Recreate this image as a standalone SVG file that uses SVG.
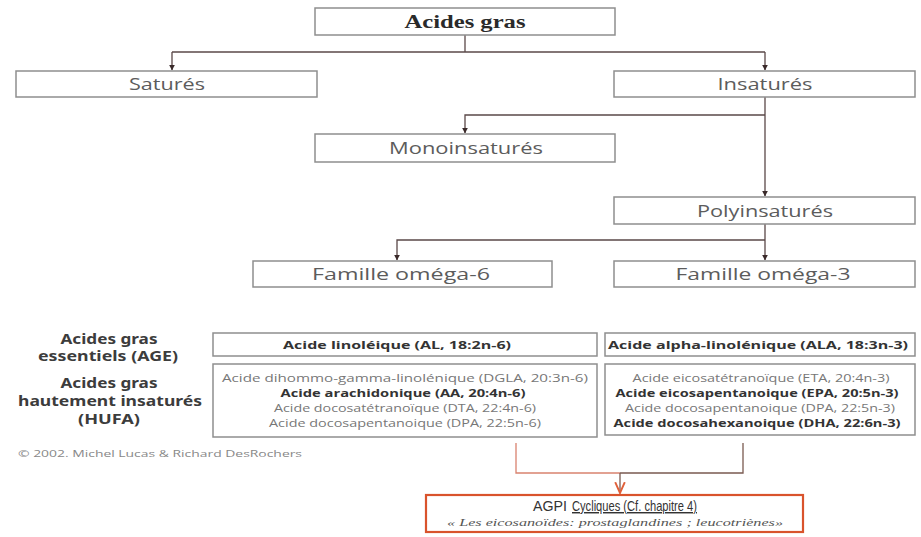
<svg xmlns="http://www.w3.org/2000/svg" width="921" height="537" viewBox="0 0 921 537">
<style>
.box{fill:#fff;stroke:#8e8e8e;stroke-width:1.5}
.lbl{font-family:"Open Sans","Liberation Sans",sans-serif;font-size:16px;fill:#5c5c5c;text-anchor:middle}
.big{font-size:17px}
.ttl{font-family:"Liberation Serif",serif;font-weight:bold;font-size:18px;fill:#2a2a2a;text-anchor:middle}
.side{font-family:"Noto Sans","Liberation Sans",sans-serif;font-weight:bold;font-size:13.5px;fill:#3c3c3c;text-anchor:middle}
.sm{font-family:"Open Sans","Liberation Sans",sans-serif;font-size:11px;fill:#777;text-anchor:middle}
.smb{font-family:"Open Sans","Liberation Sans",sans-serif;font-size:11px;font-weight:bold;fill:#333;text-anchor:middle}
.con{fill:none;stroke:#5a4848;stroke-width:1.3}
.agpi{font-family:"Liberation Sans",Arial,sans-serif;font-size:14.5px;fill:#333}
</style>
<defs>
<marker id="ah" viewBox="0 0 10 10" refX="9" refY="5" markerWidth="6" markerHeight="6" orient="auto" markerUnits="userSpaceOnUse">
<path d="M0,0 L10,5 L0,10 z" fill="#3a2a2a"/>
</marker>
<marker id="ahr" viewBox="0 0 10 10" refX="9" refY="5" markerWidth="12" markerHeight="12" orient="auto" markerUnits="userSpaceOnUse">
<path d="M0,1 L9,5 L0,9" fill="none" stroke="#e0603a" stroke-width="1.6"/>
</marker>
</defs>
<rect width="921" height="537" fill="#fff"/>
<g id="connectors">
<path class="con" d="M465,35 V52"/>
<path class="con" d="M172,52 H765"/>
<path class="con" d="M172,52 V70" marker-end="url(#ah)"/>
<path class="con" d="M765,52 V70" marker-end="url(#ah)"/>
<path class="con" d="M765,97 V196" marker-end="url(#ah)"/>
<path class="con" d="M765,115 H465 V133" marker-end="url(#ah)"/>
<path class="con" d="M765,224 V260" marker-end="url(#ah)"/>
<path class="con" d="M765,240 H397 V260" marker-end="url(#ah)"/>
<path fill="none" stroke="#d9826f" stroke-width="1.3" d="M516,443 V473 H620"/>
<path fill="none" stroke="#7a5a50" stroke-width="1.3" d="M620,473 H743 V443"/>
<path fill="none" stroke="#7a5a50" stroke-width="1.3" d="M620,473 V493" marker-end="url(#ahr)"/>
</g>
<g id="acides-gras">
<rect class="box" x="315" y="8" width="300" height="27"/>
<text class="ttl" x="465" y="28" textLength="121" lengthAdjust="spacingAndGlyphs">Acides gras</text>
</g>
<g id="satures">
<rect class="box" x="16" y="71" width="301" height="26"/>
<text class="lbl" x="167" y="90" textLength="76" lengthAdjust="spacingAndGlyphs">Saturés</text>
</g>
<g id="insatures">
<rect class="box" x="614" y="71" width="301" height="26"/>
<text class="lbl" x="765" y="90" textLength="95" lengthAdjust="spacingAndGlyphs">Insaturés</text>
</g>
<g id="monoinsatures">
<rect class="box" x="315" y="134" width="300" height="28"/>
<text class="lbl big" x="466" y="154" textLength="154" lengthAdjust="spacingAndGlyphs">Monoinsaturés</text>
</g>
<g id="polyinsatures">
<rect class="box" x="614" y="197" width="301" height="27"/>
<text class="lbl big" x="765" y="217" textLength="136" lengthAdjust="spacingAndGlyphs">Polyinsaturés</text>
</g>
<g id="omega6">
<rect class="box" x="253" y="261" width="299" height="26"/>
<text class="lbl big" x="401" y="280" textLength="178" lengthAdjust="spacingAndGlyphs">Famille oméga-6</text>
</g>
<g id="omega3">
<rect class="box" x="614" y="261" width="301" height="26"/>
<text class="lbl big" x="763" y="280" textLength="175" lengthAdjust="spacingAndGlyphs">Famille oméga-3</text>
</g>
<g id="labels-left">
<text class="side" x="109" y="344" textLength="97" lengthAdjust="spacingAndGlyphs">Acides gras</text>
<text class="side" x="108" y="361" textLength="140" lengthAdjust="spacingAndGlyphs">essentiels (AGE)</text>
<text class="side" x="109" y="388" textLength="97" lengthAdjust="spacingAndGlyphs">Acides gras</text>
<text class="side" x="110" y="406" textLength="184" lengthAdjust="spacingAndGlyphs">hautement insaturés</text>
<text class="side" x="109" y="424" textLength="62" lengthAdjust="spacingAndGlyphs">(HUFA)</text>
</g>
<g id="age-omega6">
<rect class="box" x="213" y="333" width="384" height="23"/>
<text class="smb" x="397" y="349" textLength="228" lengthAdjust="spacingAndGlyphs">Acide linoléique (AL, 18:2n-6)</text>
</g>
<g id="age-omega3">
<rect class="box" x="605" y="333" width="310" height="23"/>
<text class="smb" x="758" y="349" textLength="300" lengthAdjust="spacingAndGlyphs">Acide alpha-linolénique (ALA, 18:3n-3)</text>
</g>
<g id="hufa-omega6">
<rect class="box" x="213" y="364" width="384" height="73"/>
<text class="sm" x="405" y="382" textLength="366" lengthAdjust="spacingAndGlyphs">Acide dihommo-gamma-linolénique (DGLA, 20:3n-6)</text>
<text class="smb" x="403" y="397" textLength="245" lengthAdjust="spacingAndGlyphs">Acide arachidonique (AA, 20:4n-6)</text>
<text class="sm" x="405" y="412" textLength="262" lengthAdjust="spacingAndGlyphs">Acide docosatétranoïque (DTA, 22:4n-6)</text>
<text class="sm" x="405" y="427" textLength="272" lengthAdjust="spacingAndGlyphs">Acide docosapentanoique (DPA, 22:5n-6)</text>
</g>
<g id="hufa-omega3">
<rect class="box" x="605" y="364" width="310" height="71"/>
<text class="sm" x="761" y="382" textLength="257" lengthAdjust="spacingAndGlyphs">Acide eicosatétranoïque (ETA, 20:4n-3)</text>
<text class="smb" x="757" y="397" textLength="283" lengthAdjust="spacingAndGlyphs">Acide eicosapentanoique (EPA, 20:5n-3)</text>
<text class="sm" x="760" y="412" textLength="270" lengthAdjust="spacingAndGlyphs">Acide docosapentanoique (DPA, 22:5n-3)</text>
<text class="smb" x="757" y="427" textLength="287" lengthAdjust="spacingAndGlyphs">Acide docosahexanoique (DHA, 22:6n-3)</text>
</g>
<g id="copyright">
<text x="18" y="457" font-family="Open Sans, Liberation Sans, sans-serif" font-size="9.5" fill="#888" textLength="284" lengthAdjust="spacingAndGlyphs">© 2002. Michel Lucas &amp; Richard DesRochers</text>
</g>
<g id="agpi">
<rect x="426" y="495" width="377" height="37" fill="#fff" stroke="#d9532c" stroke-width="2.2"/>
<text class="agpi" x="533" y="511" textLength="34" lengthAdjust="spacingAndGlyphs">AGPI</text>
<text class="agpi" x="572" y="511" text-decoration="underline" textLength="125" lengthAdjust="spacingAndGlyphs">Cycliques (Cf. chapitre 4)</text>
<text x="615" y="526" font-family="Liberation Serif, serif" font-style="italic" font-size="10.5" fill="#555" text-anchor="middle" textLength="336" lengthAdjust="spacingAndGlyphs">« Les  eicosanoïdes: prostaglandines ; leucotriènes»</text>
</g>
</svg>
